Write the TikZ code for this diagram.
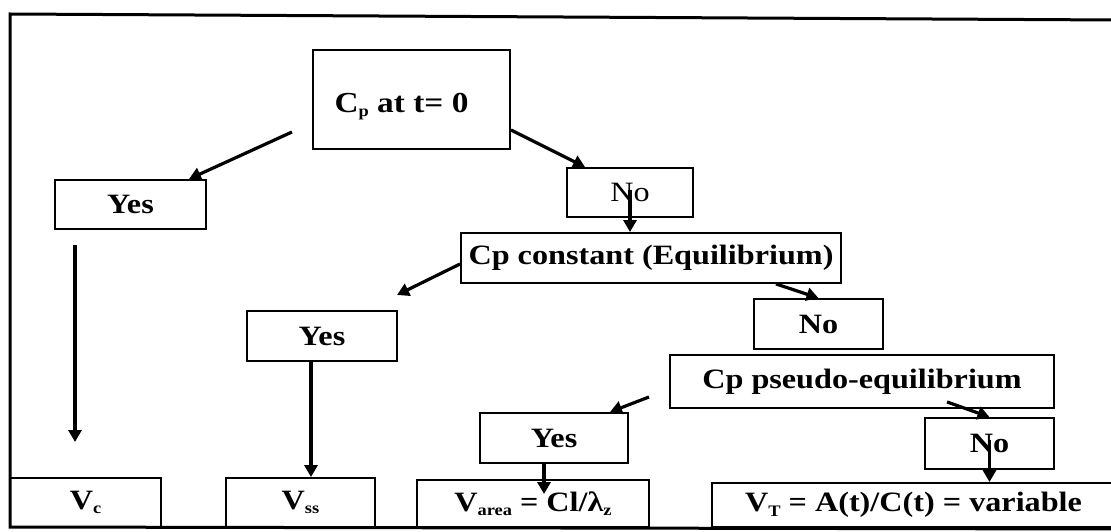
\documentclass[tikz,border=0pt]{standalone}
\usepackage{fontspec}
\setmainfont{Liberation Serif}[FakeStretch=1.15]
\usetikzlibrary{arrows.meta,calc}
% lowered small index used in the labels
\newcommand\lowidx[1]{\raisebox{-0.35ex}{\fontsize{16}{16}\selectfont #1}}
\begin{document}
\begin{tikzpicture}[x=1pt,y=-1pt,
  box/.style={draw, line width=1.9pt, inner sep=0pt, font=\bfseries\fontsize{28}{32}\selectfont},
  arr/.style={line width=3.2pt, -{Triangle[length=12pt,width=13pt]}},
  frame/.style={line width=3pt}
]
\useasboundingbox (0,0) rectangle (1111,532);

% outer frame (right side runs off the page)
\coordinate (f1) at (1116,20);
\coordinate (f2) at (10,14);
\coordinate (f3) at (10,527);
\coordinate (f4) at (1116,529);
\draw[frame] (f1) -- (f2) -- (f3) -- (f4);

% decision boxes
\node[box, minimum width=197pt, minimum height=99pt] (root) at (411.5,99.5) {};
\node[inner sep=0pt, font=\bfseries\fontsize{29}{33}\selectfont] (roottext) at ([xshift=-10pt,yshift=-7pt]root.center) {C\lowidx{p} at t= 0};
\node[box, minimum width=151pt, minimum height=49pt] (yes1) at (130.5,204.5) {Yes};
\node[box, minimum width=126pt, minimum height=49pt, font=\fontsize{28}{32}\selectfont] (no1) at (630,192.5) {No};
\node[box, minimum width=380pt, minimum height=50pt] (cpc) at (651,258) {Cp constant (Equilibrium)};
\node[box, minimum width=150pt, minimum height=50pt] (yes2) at (322,336) {Yes};
\node[box, minimum width=129pt, minimum height=50pt] (no2) at (818.5,324) {No};
\node[box, minimum width=384pt, minimum height=53pt] (pse) at (862,381.5) {Cp pseudo-equilibrium};
\node[box, minimum width=148pt, minimum height=50pt] (yes3) at (554,438) {Yes};
\node[box, minimum width=129pt, minimum height=51pt] (no3) at (989.5,443.5) {No};

% results
\node[box, minimum width=151pt, minimum height=49pt] (vc) at (85.5,502.5) {V\lowidx{c}};
\node[box, minimum width=149pt, minimum height=49pt] (vss) at (300.5,502.5) {V\lowidx{ss}};
\node[box, minimum width=232pt, minimum height=47pt] (varea) at (533,503.5) {V\lowidx{area} = Cl/λ\lowidx{z}};
\node[box, minimum width=403pt, minimum height=44pt] (vt) at (913.5,505) {V\lowidx{T} = A(t)/C(t) = variable};

% free connector ends
\coordinate (s1) at (292,132);
\coordinate (s2) at (75,245);
\coordinate (e2) at (75,442);
\coordinate (e3) at (397,295);
\coordinate (s4) at (649,397);

% connectors
\draw[arr] (s1) -- ([xshift=-18pt]yes1.north east);
\draw[arr] (s2) -- (e2);
\draw[arr] ([yshift=-30.5pt]root.east) -- ([xshift=19pt]no1.north west);
\draw[arr] ([yshift=3pt]no1.center) -- (no1.center |- cpc.north);
\draw[arr] ([yshift=-6pt]cpc.west) -- (e3);
\draw[arr] ([xshift=-66pt]cpc.south east) -- (no2.north);
\draw[arr] ([xshift=-11pt]yes2.south) -- ([xshift=-11pt]yes2.south |- vss.north);
\draw[arr] (s4) -- ([xshift=-19pt]yes3.north east);
\draw[arr] ([xshift=85pt,yshift=7pt]pse.south) -- (no3.north);
\draw[arr] ([xshift=-10pt]yes3.south) -- ([xshift=-10pt,yshift=-15pt]yes3.south |- varea.north);
\draw[arr] ([yshift=4pt]no3.center) -- (no3.center |- vt.north);
\end{tikzpicture}
\end{document}
